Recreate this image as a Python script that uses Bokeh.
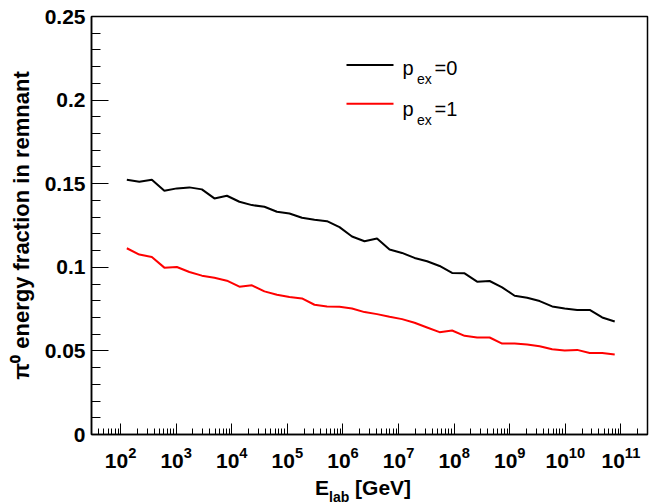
from bokeh.plotting import figure
from bokeh.models import (Range1d, FixedTicker, LogTickFormatter, NumeralTickFormatter,
                          Label, BoxAnnotation, ColumnDataSource, Div)
from bokeh.layouts import column
from bokeh.embed import file_html
from bokeh.resources import INLINE

# log10(E_lab / GeV) bin centres
log_e = [2.1125, 2.3375, 2.5625, 2.7875, 3.0125, 3.2375, 3.4625, 3.6875, 3.9125, 4.1375,
         4.3625, 4.5875, 4.8125, 5.0375, 5.2625, 5.4875, 5.7125, 5.9375, 6.1625, 6.3875,
         6.6125, 6.8375, 7.0625, 7.2875, 7.5125, 7.7375, 7.9625, 8.1875, 8.4125, 8.6375,
         8.8625, 9.0875, 9.3125, 9.5375, 9.7625, 9.9875, 10.2125, 10.4375, 10.6625, 10.8875]

frac_pex0 = [0.1524, 0.1512, 0.1524, 0.1458, 0.1472, 0.1478, 0.1466, 0.1412, 0.1428, 0.1392,
             0.1372, 0.1362, 0.1332, 0.1322, 0.1296, 0.1284, 0.1276, 0.1240, 0.1184, 0.1156,
             0.1172, 0.1106, 0.1086, 0.1056, 0.1036, 0.1008, 0.0966, 0.0964, 0.0914, 0.0918,
             0.0880, 0.0830, 0.0818, 0.0798, 0.0766, 0.0754, 0.0745, 0.0745, 0.0700, 0.0676]

frac_pex1 = [0.1114, 0.1076, 0.1062, 0.0998, 0.1002, 0.0972, 0.0950, 0.0938, 0.0920, 0.0884,
             0.0892, 0.0856, 0.0836, 0.0822, 0.0814, 0.0776, 0.0766, 0.0764, 0.0754, 0.0732,
             0.0720, 0.0704, 0.0690, 0.0668, 0.0640, 0.0612, 0.0622, 0.0590, 0.0580, 0.0580,
             0.0544, 0.0544, 0.0538, 0.0528, 0.0510, 0.0502, 0.0506, 0.0488, 0.0487, 0.0478]

x_major = [1e2, 1e3, 1e4, 1e5, 1e6, 1e7, 1e8, 1e9, 1e10, 1e11]
y_major = [0, 0.05, 0.1, 0.15, 0.2, 0.25]

FONT = "Liberation Sans"

energy = [10 ** v for v in log_e]
src = ColumnDataSource(dict(e=energy, f0=frac_pex0, f1=frac_pex1))

p = figure(width=662, height=476, x_axis_type="log",
           x_range=Range1d(30, 3e11), y_range=Range1d(0, 0.25),
           output_backend="svg", toolbar_location=None,
           min_border_left=91, min_border_right=15, min_border_top=16, min_border_bottom=42)

p.background_fill_color = "white"
p.border_fill_color = "white"
p.outline_line_color = "black"
p.outline_line_width = 1.5
p.grid.visible = False

p.line("e", "f0", source=src, line_color="black", line_width=2)
p.line("e", "f1", source=src, line_color="#ff0000", line_width=2)

# x axis
x_minor = [m * 10 ** k for k in range(1, 12) for m in range(2, 10) if 40 <= m * 10 ** k <= 2e11]
p.xaxis.ticker = FixedTicker(ticks=x_major, minor_ticks=x_minor)
p.xaxis.formatter = LogTickFormatter()
p.xaxis.major_tick_in = 11
p.xaxis.major_tick_out = 0
p.xaxis.minor_tick_in = 6
p.xaxis.minor_tick_out = 0
p.xaxis.major_label_standoff = 12
p.xaxis.major_label_text_font = FONT
p.xaxis.major_label_text_font_style = "bold"
p.xaxis.major_label_text_font_size = "21px"
p.xaxis.major_label_text_color = "black"

# y axis
y_minor = [k / 100 for k in range(1, 25) if k % 5 != 0]
p.yaxis.ticker = FixedTicker(ticks=y_major, minor_ticks=y_minor)
p.yaxis.formatter = NumeralTickFormatter(format="0.[00]")
p.yaxis.major_tick_in = 17
p.yaxis.major_tick_out = 0
p.yaxis.minor_tick_in = 9
p.yaxis.minor_tick_out = 0
p.yaxis.major_label_standoff = 6
p.yaxis.major_label_text_font = FONT
p.yaxis.major_label_text_font_style = "bold"
p.yaxis.major_label_text_font_size = "21px"
p.yaxis.major_label_text_color = "black"
p.yaxis.axis_label = "\u03c0\u2070 energy fraction in remnant"
p.yaxis.axis_label_text_font = FONT
p.yaxis.axis_label_text_font_style = "bold"
p.yaxis.axis_label_text_font_size = "22px"
p.yaxis.axis_label_text_color = "black"
p.yaxis.axis_label_standoff = 8

for ax in (p.xaxis, p.yaxis):
    ax.axis_line_color = "black"
    ax.axis_line_width = 1.5
    ax.major_tick_line_color = "black"
    ax.minor_tick_line_color = "black"


def lab(text, x, y, size, style="normal"):
    p.add_layout(Label(x=x, y=y, x_units="screen", y_units="screen", text=text,
                       text_font=FONT, text_font_size=size, text_font_style=style,
                       text_color="black", text_baseline="alphabetic", text_align="left"))


# legend
legend_rows = [("black", "=0", 369.5, 367), ("#ff0000", "=1", 330.7, 326)]
for color, tail, ly, base in legend_rows:
    p.add_layout(BoxAnnotation(left=255, right=302, bottom=ly - 1, top=ly + 1,
                               left_units="screen", right_units="screen",
                               bottom_units="screen", top_units="screen",
                               fill_color=color, fill_alpha=1, line_alpha=0))
    lab("p", 311, base, "20px")
    lab("ex", 325.5, base - 11.5, "14px")
    lab(tail, 343, base, "20px")

# x axis title with subscript
xtitle = Div(
    text='E<span style="font-size:14px; position:relative; top:7px;">lab</span> [GeV]',
    width=662, height=28, margin=(0, 0, 0, 0),
    styles={"font-family": FONT, "font-size": "21px", "font-weight": "bold",
            "color": "black", "line-height": "24px", "padding-left": "315px",
            "white-space": "nowrap"})

layout = column(p, xtitle, spacing=0)

open("out.html", "w").write(file_html(layout, INLINE))
